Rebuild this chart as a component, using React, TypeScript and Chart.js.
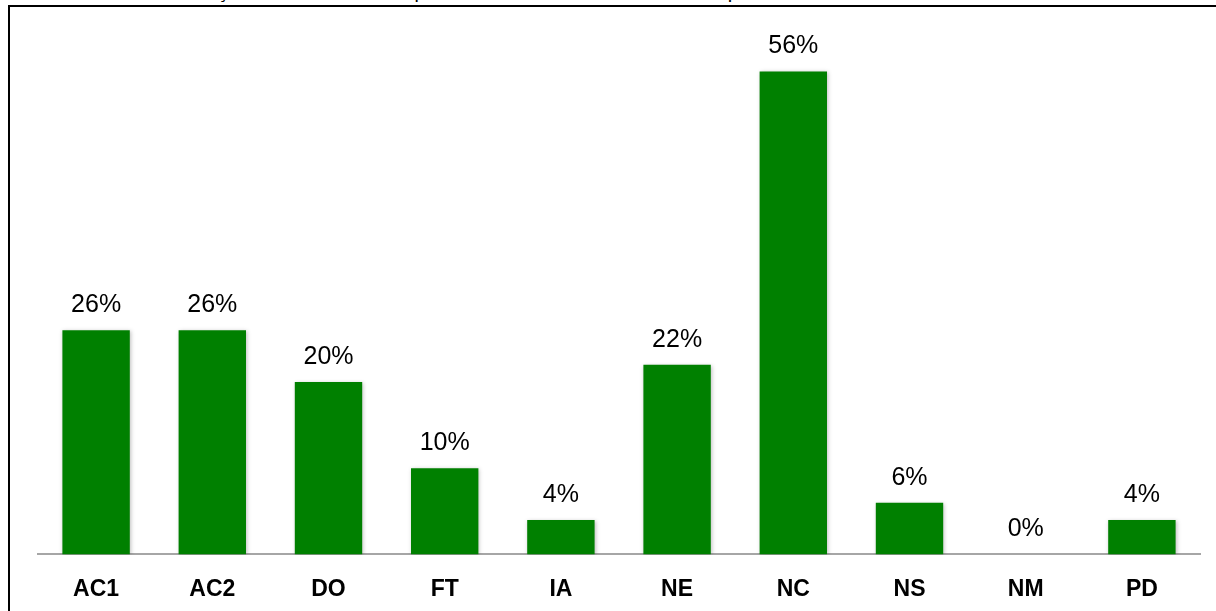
import React, { useEffect, useRef } from "react";
import { Chart, registerables } from "chart.js";

Chart.register(...registerables);

const categories = ["AC1", "AC2", "DO", "FT", "IA", "NE", "NC", "NS", "NM", "PD"];
const values = [26, 26, 20, 10, 4, 22, 56, 6, 0, 4];
const valueLabels = ["26%", "26%", "20%", "10%", "4%", "22%", "56%", "6%", "0%", "4%"];
const titleText =
  "Gráfico 7 – Taxa de atuação dos motivadores que levaram à escolha da atividade profissional dos alunos – 1ª e 2ª fases";

const FONT = "'Liberation Sans', Arial, sans-serif";

const valueLabelPlugin = {
  id: "valueLabels",
  afterDatasetsDraw(chart: any) {
    const ctx = chart.ctx;
    const meta = chart.getDatasetMeta(0);
    ctx.save();
    ctx.font = `25px ${FONT}`;
    ctx.fillStyle = "#000000";
    ctx.textAlign = "center";
    ctx.textBaseline = "middle";
    meta.data.forEach((bar: any, i: number) => {
      ctx.fillText(valueLabels[i], bar.x, bar.y - 25);
    });
    ctx.restore();
  },
};

const shadowPlugin = {
  id: "barShadow",
  beforeDatasetDraw(chart: any) {
    const ctx = chart.ctx;
    ctx.save();
    ctx.shadowColor = "rgba(0,0,0,0.25)";
    ctx.shadowBlur = 4;
    ctx.shadowOffsetX = 1;
    ctx.shadowOffsetY = 1;
  },
  afterDatasetDraw(chart: any) {
    chart.ctx.restore();
  },
};

export default function App() {
  const canvasRef = useRef<HTMLCanvasElement | null>(null);

  useEffect(() => {
    if (!canvasRef.current) return;
    const chart = new Chart(canvasRef.current, {
      type: "bar",
      data: {
        labels: categories,
        datasets: [
          {
            data: values,
            backgroundColor: "#008000",
            borderWidth: 0,
            barPercentage: 0.58,
            categoryPercentage: 1,
          },
        ],
      },
      options: {
        animation: false,
        responsive: false,
        maintainAspectRatio: false,
        layout: { padding: { left: 38, right: 16, top: 37, bottom: -13 } },
        plugins: {
          legend: { display: false },
          tooltip: { enabled: false },
          title: { display: false },
        },
        scales: {
          x: {
            grid: { display: false, drawTicks: false },
            border: { display: true, color: "#a6a6a6", width: 2 },
            ticks: {
              color: "#000000",
              padding: 21,
              font: { family: FONT, size: 23, weight: "bold" },
              maxRotation: 0,
            },
          },
          y: {
            display: false,
            min: 0,
            max: 60,
          },
        },
      },
      plugins: [shadowPlugin, valueLabelPlugin],
    });
    return () => chart.destroy();
  }, []);

  return (
    <div
      style={{
        position: "fixed",
        left: 0,
        top: 0,
        width: 1216,
        height: 611,
        overflow: "hidden",
        background: "#ffffff",
      }}
    >
      <div
        style={{
          position: "absolute",
          left: 0,
          top: -19,
          whiteSpace: "nowrap",
          fontFamily: FONT,
          fontSize: 20,
          lineHeight: "20px",
          color: "#000",
        }}
      >
        {titleText}
      </div>
      <div
        style={{
          position: "absolute",
          left: 8,
          top: 5,
          width: 1260,
          height: 700,
          border: "2px solid #000",
          boxSizing: "border-box",
        }}
      />
      <canvas
        ref={canvasRef}
        width={1216}
        height={611}
        style={{ position: "absolute", left: 0, top: 0, width: 1216, height: 611 }}
      />
    </div>
  );
}
